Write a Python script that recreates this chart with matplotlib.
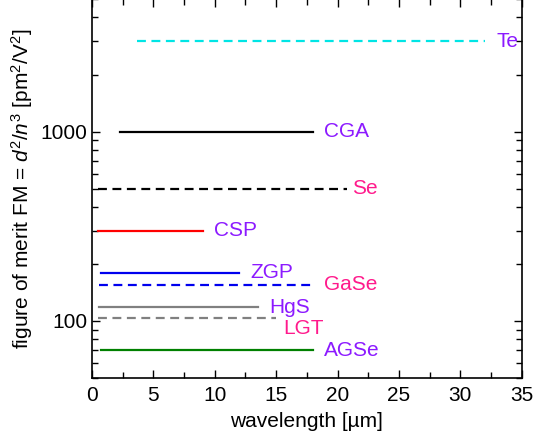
import matplotlib
matplotlib.use('Agg')
import matplotlib.pyplot as plt
from matplotlib.ticker import MultipleLocator, LogLocator, FixedLocator, NullFormatter, FixedFormatter

plt.rcParams['font.family'] = ['Liberation Sans', 'DejaVu Sans']
plt.rcParams['mathtext.fontset'] = 'custom'
plt.rcParams['mathtext.rm'] = 'Liberation Sans'
plt.rcParams['mathtext.it'] = 'Liberation Sans:italic'

# crystals: name, wavelength range [um], figure of merit
names = ['Te', 'CGA', 'Se', 'CSP', 'ZGP', 'GaSe', 'HgS', 'LGT', 'AGSe']
wl_start = [3.7, 2.3, 0.5, 0.5, 0.7, 0.6, 0.6, 0.5, 0.7]
wl_end = [32.0, 18.0, 20.8, 9.0, 12.0, 18.0, 13.5, 15.0, 18.0]
fom = [3000, 1000, 500, 300, 180, 155, 118, 104, 70]
line_colors = ['#00e5e5', 'black', 'black', 'red', '#0000ee', '#0000ee', 'gray', 'gray', 'green']
line_styles = ['--', '-', '--', '-', '-', '--', '-', '--', '-']
label_colors = ['#8c1aff', '#8c1aff', '#ff1a8c', '#8c1aff', '#8c1aff', '#ff1a8c', '#8c1aff', '#ff1a8c', '#8c1aff']

fig = plt.figure(figsize=(5.33, 4.38), dpi=100)
ax = fig.add_axes([0.1726, 0.137, 0.8064, 0.865])

for i in range(len(names)):
    ax.plot([wl_start[i], wl_end[i]], [fom[i], fom[i]], color=line_colors[i],
            ls=line_styles[i], lw=1.6, dashes=(4, 2.5) if line_styles[i] == '--' else (None, None))
    dx, dy = 8, 0
    if names[i] == 'LGT':
        dx, dy = 5, -8
    if names[i] == 'Se':
        dx = 3
    ax.annotate(names[i], (wl_end[i], fom[i]), xytext=(dx, dy), textcoords='offset points',
                color=label_colors[i], fontsize=15, va='center', ha='left')

ax.set_yscale('log')
ax.set_xlim(0, 35)
ax.set_ylim(50, 5000)
ax.xaxis.set_major_locator(MultipleLocator(5))
ax.xaxis.set_minor_locator(MultipleLocator(2.5))
ax.yaxis.set_major_locator(FixedLocator([100, 1000]))
ax.yaxis.set_major_formatter(FixedFormatter(['100', '1000']))
ax.yaxis.set_minor_locator(LogLocator(base=10, subs=range(2, 10)))
ax.yaxis.set_minor_formatter(NullFormatter())
ax.tick_params(which='both', direction='in', top=True, right=True, labelsize=15, width=1)
ax.tick_params(which='major', length=6)
ax.tick_params(which='minor', length=4)
ax.tick_params(axis='x', which='major', pad=6)
for s in ax.spines.values():
    s.set_linewidth(1.2)

ax.set_xlabel('wavelength [µm]', fontsize=15, labelpad=5)
ax.set_ylabel('figure of merit FM = $d^2/n^3$ [pm$^2$/V$^2$]', fontsize=15, labelpad=4)

fig.savefig('out.png', dpi=100)
